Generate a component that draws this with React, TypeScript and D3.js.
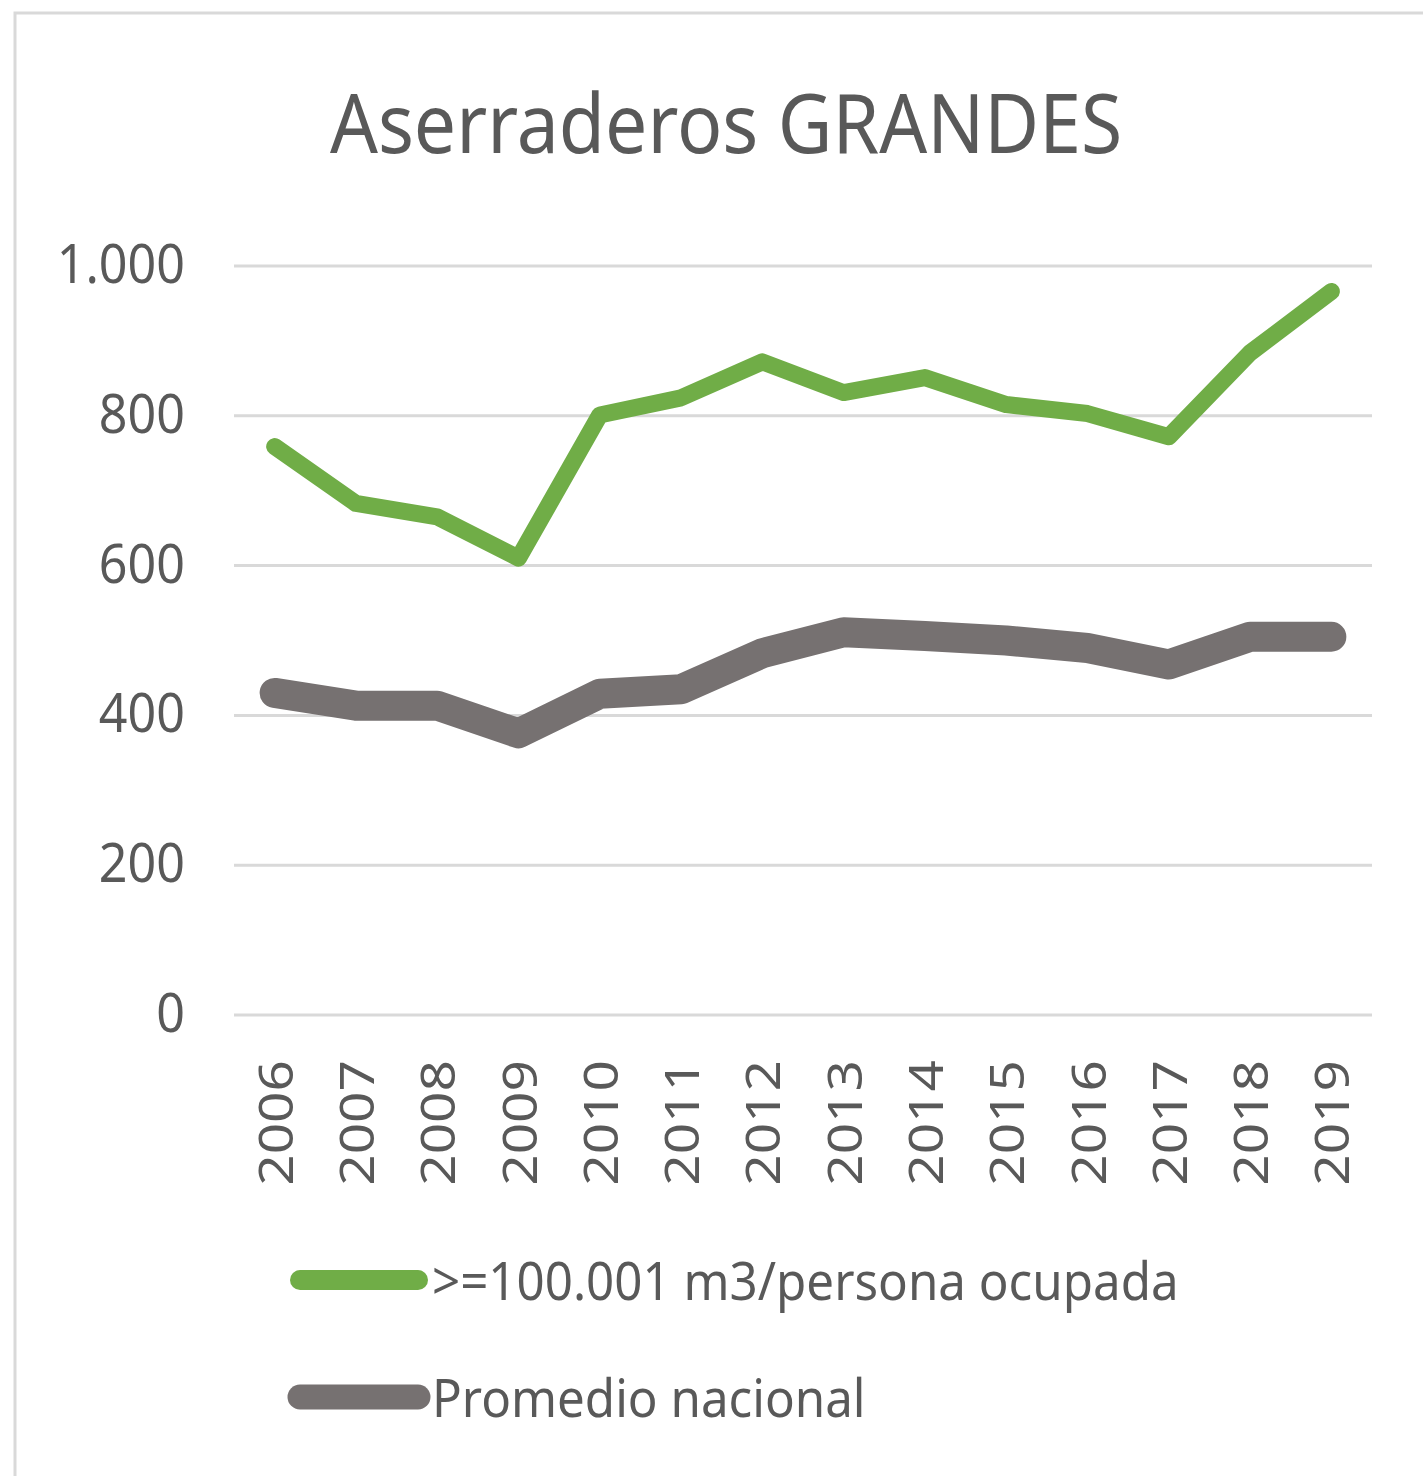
import React from "react";
import * as d3 from "d3";

// chart values
const years = ["2006", "2007", "2008", "2009", "2010", "2011", "2012", "2013", "2014", "2015", "2016", "2017", "2018", "2019"];
const grandes = [759, 683, 665, 610, 801, 824, 872, 831, 851, 815, 803, 772, 884, 966];
const promedio = [430, 413, 413, 376, 429, 435, 483, 511, 506, 500, 490, 468, 505, 505];
const yTicks = [0, 200, 400, 600, 800, 1000];
const seriesNames = [">=100.001 m3/persona ocupada", "Promedio nacional"];

const W = 1423;
const H = 1476;
const left = 234;
const right = 1372;
const top = 266;
const bottom = 1015;
const textColor = "#595959";
const font = "'Noto Sans', 'Open Sans', sans-serif";

export default function App() {
  const x = d3.scaleBand<string>().domain(years).range([left, right]);
  const y = d3.scaleLinear().domain([0, 1000]).range([bottom, top]);
  const fmt = (v: number) => d3.format(",")(v).replace(/,/g, ".");

  const line = d3
    .line<number>()
    .x((_, i) => (x(years[i]) as number) + x.bandwidth() / 2)
    .y((d) => y(d));

  const series = [
    { name: seriesNames[0], values: grandes, color: "#70AD47", width: 17, legendWidth: 20 },
    { name: seriesNames[1], values: promedio, color: "#767171", width: 30, legendWidth: 25 },
  ];

  return (
    <svg width={W} height={H} style={{ position: "absolute", left: 0, top: 0 }}>
      <rect x={0} y={0} width={W} height={H} fill="#fff" />
      <rect x={15} y={13} width={W + 20} height={H + 20} fill="none" stroke="#d9d9d9" strokeWidth={3} />

      <g transform="translate(726,153) scale(0.905,1)">
        <text textAnchor="middle" fontFamily={font} fontSize={83} fill={textColor}>
          Aserraderos GRANDES
        </text>
      </g>

      {yTicks.map((t) => (
        <g key={t}>
          <line x1={left} x2={right} y1={y(t)} y2={y(t)} stroke="#d9d9d9" strokeWidth={3} />
          <g transform={`translate(185,${y(t) + 17}) scale(0.93,1)`}>
            <text textAnchor="end" fontFamily={font} fontSize={54} fill={textColor}>
              {fmt(t)}
            </text>
          </g>
        </g>
      ))}

      {years.map((yr) => {
        const cx = (x(yr) as number) + x.bandwidth() / 2;
        return (
          <g key={yr} transform={`translate(${cx + 18},1060) rotate(-90) scale(1.17,1)`}>
            <text textAnchor="end" fontFamily={font} fontSize={47} fill={textColor}>
              {yr}
            </text>
          </g>
        );
      })}

      {series.map((s) => (
        <path
          key={s.name}
          d={line(s.values) || ""}
          fill="none"
          stroke={s.color}
          strokeWidth={s.width}
          strokeLinecap="round"
          strokeLinejoin="round"
        />
      ))}

      {series.map((s, i) => {
        const ly = 1280 + i * 117;
        return (
          <g key={s.name}>
            <line x1={300} x2={418} y1={ly} y2={ly} stroke={s.color} strokeWidth={s.legendWidth} strokeLinecap="round" />
            <g transform={`translate(432,${ly + 20}) scale(0.93,1)`}>
              <text fontFamily={font} fontSize={53} fill={textColor}>
                {s.name}
              </text>
            </g>
          </g>
        );
      })}
    </svg>
  );
}
